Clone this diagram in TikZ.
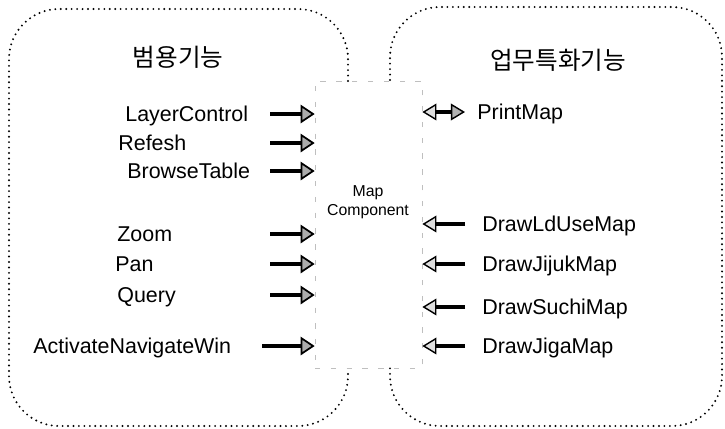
\documentclass[tikz,border=0pt]{standalone}
\usepackage{fontspec}
\setmainfont{Liberation Sans}
\newfontfamily\kofont{Noto Sans CJK KR}
\usetikzlibrary{arrows.meta}

\begin{document}
\begin{tikzpicture}[x=2mm,y=2mm,
    region/.style={line width=1.2pt, line cap=round, dash pattern=on 0pt off 3.1pt, rounded corners=10mm},
    mapbox/.style={draw=gray!50, line width=0.4pt, dash pattern=on 3pt off 6pt, minimum width=21.4mm, minimum height=57.4mm, inner sep=0pt},
    func/.style={anchor=west, inner sep=0pt, font=\fontsize{12.2}{14}\selectfont, text height=8.7pt, text depth=0pt},
    title/.style={font=\kofont\fontsize{14}{16}\selectfont},
    callin/.style={line width=1.9pt, -{Triangle[length=8pt, width=10.5pt, line width=1pt, fill=gray!65]}},
    callout/.style={line width=1.8pt, -{Triangle[length=8pt, width=9.5pt, line width=0.8pt, fill=gray!25]}},
    calltwo/.style={line width=1.8pt, {Triangle[length=8pt, width=9.5pt, line width=0.8pt, fill=gray!25]}-{Triangle[length=8pt, width=9.5pt, line width=0.8pt, fill=gray!60]}}
  ]
  \useasboundingbox (0,0) rectangle (72.5,42.8);

  %LEFT REGION
  \draw [region] (34.8,34.7) -- (34.8,41.9) -- (0.9,41.9) -- (0.9,0.2) -- (34.8,0.2) -- (34.8,5.7);
  \node (gen) at (17.8,37.1) [title] {범용기능};

  %RIGHT REGION
  \draw [region] (39.0,34.8) -- (39.0,42.1) -- (72.2,42.1) -- (72.2,0.2) -- (39.0,0.2) -- (39.0,6.0);
  \node (spec) at (55.8,36.8) [title] {업무특화기능};

  %MAP COMPONENT
  \node (map) at (36.85,20.35) [mapbox] {};
  \node (maptext) at (36.8,22.6) [align=center, font=\fontsize{9}{10.8}\selectfont] {Map\\Component};

  \coordinate (lstart) at (27,0);
  \coordinate (astart) at (26.2,0);
  \coordinate (rstart) at (46.5,0);

  %GENERAL FUNCTIONS
  \node (lc) at (12.5,31.4) [func] {LayerControl};
  \node (rf) at (11.8,28.5) [func] {Refesh};
  \node (bt) at (12.7,25.7) [func] {BrowseTable};
  \node (zm) at (11.7,19.4) [func] {Zoom};
  \node (pn) at (11.5,16.4) [func] {Pan};
  \node (qr) at (11.7,13.3) [func] {Query};
  \node (an) at (3.3,8.2) [func] {ActivateNavigateWin};

  \draw [callin] (lc -| lstart) -- (lc -| map.west);
  \draw [callin] (rf -| lstart) -- (rf -| map.west);
  \draw [callin] (bt -| lstart) -- (bt -| map.west);
  \draw [callin] (zm -| lstart) -- (zm -| map.west);
  \draw [callin] (pn -| lstart) -- (pn -| map.west);
  \draw [callin] (qr -| lstart) -- (qr -| map.west);
  \draw [callin] (an -| astart) -- (an -| map.west);

  %SPECIAL FUNCTIONS
  \node (pm) at (47.7,31.6) [func] {PrintMap};
  \node (ld) at (48.2,20.4) [func] {DrawLdUseMap};
  \node (jj) at (48.2,16.4) [func] {DrawJijukMap};
  \node (sc) at (48.2,12.1) [func] {DrawSuchiMap};
  \node (jg) at (48.2,8.2) [func] {DrawJigaMap};

  \draw [calltwo] (pm -| map.east) -- (pm -| rstart);
  \draw [callout] (ld -| rstart) -- (ld -| map.east);
  \draw [callout] (jj -| rstart) -- (jj -| map.east);
  \draw [callout] (sc -| rstart) -- (sc -| map.east);
  \draw [callout] (jg -| rstart) -- (jg -| map.east);
\end{tikzpicture}
\end{document}
